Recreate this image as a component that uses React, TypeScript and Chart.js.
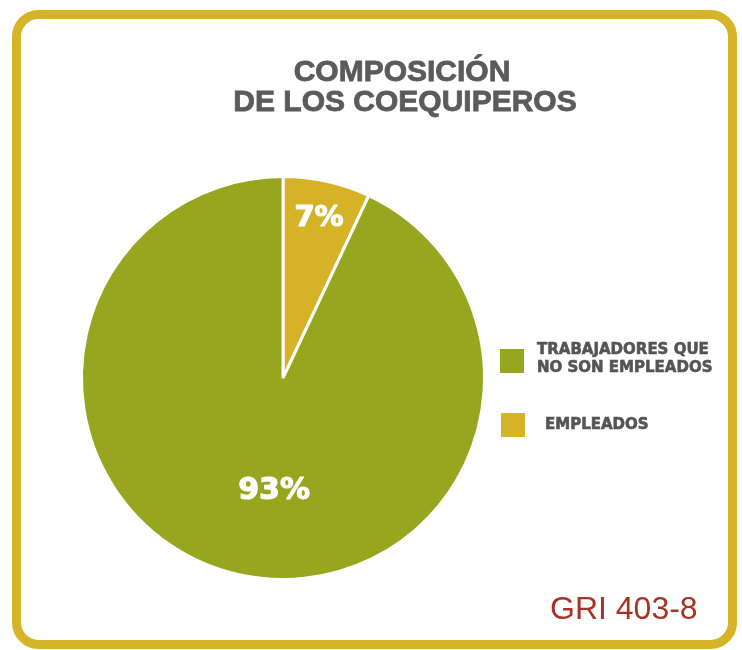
import React, { useEffect, useRef } from "react";
import { Chart, registerables } from "chart.js";

Chart.register(...registerables);

const titleLines = ["COMPOSICIÓN", "DE LOS COEQUIPEROS"];
const sliceLabels = ["EMPLEADOS", "TRABAJADORES QUE NO SON EMPLEADOS"];
const legendLines = [["EMPLEADOS"], ["TRABAJADORES QUE", "NO SON EMPLEADOS"]];
const sliceValues = [7, 93];
const sliceColors = ["#D5B226", "#97A61F"];
const legendOrder = [1, 0];
const footnote = "GRI 403-8";

const labelRadius = [0.82, 0.553];
const labelAngleShift = [0, -8];
const labelFontSize = [29, 30];

const W = 742;
const H = 650;

const decorPlugin = {
  id: "decor",
  beforeDraw(chart: any) {
    const ctx = chart.ctx;
    ctx.save();
    ctx.fillStyle = "#ffffff";
    ctx.fillRect(0, 0, W, H);
    // frame
    ctx.strokeStyle = "#D6B427";
    ctx.lineWidth = 9;
    ctx.beginPath();
    ctx.roundRect(16.5, 14.5, 716, 630, 22);
    ctx.stroke();
    // title
    ctx.fillStyle = "#5B5B5B";
    ctx.strokeStyle = "#5B5B5B";
    ctx.lineWidth = 0.8;
    ctx.font = "bold 30px 'Liberation Sans', Arial, sans-serif";
    ctx.textAlign = "center";
    ctx.textBaseline = "alphabetic";
    ctx.fillText(titleLines[0], 402, 81);
    ctx.strokeText(titleLines[0], 402, 81);
    ctx.fillText(titleLines[1], 405, 111);
    ctx.strokeText(titleLines[1], 405, 111);
    // legend
    const boxes = [
      { x: 500, y: 349, tx: 537, ty: [350, 368] },
      { x: 501, y: 413, tx: 545, ty: [425] },
    ];
    ctx.textAlign = "left";
    ctx.textBaseline = "middle";
    ctx.font = "bold 15px 'DejaVu Sans', sans-serif";
    legendOrder.forEach((idx, i) => {
      const b = boxes[i];
      ctx.fillStyle = sliceColors[idx];
      ctx.fillRect(b.x, b.y, 24, 24);
      ctx.fillStyle = "#555555";
      ctx.strokeStyle = "#555555";
      ctx.lineWidth = 0.6;
      legendLines[idx].forEach((line, j) => {
        ctx.fillText(line, b.tx, b.ty[j]);
        ctx.strokeText(line, b.tx, b.ty[j]);
      });
    });
    // footnote
    ctx.fillStyle = "#A83224";
    ctx.font = "32px 'Liberation Sans', Arial, sans-serif";
    ctx.textBaseline = "alphabetic";
    ctx.fillText(footnote, 550, 619);
    ctx.restore();
  },
  afterDatasetsDraw(chart: any) {
    const ctx = chart.ctx;
    const meta = chart.getDatasetMeta(0);
    const total = sliceValues.reduce((a, b) => a + b, 0);
    ctx.save();
    ctx.fillStyle = "#ffffff";
    ctx.strokeStyle = "#ffffff";
    ctx.lineWidth = 1.2;
    ctx.lineJoin = "round";
    ctx.textAlign = "center";
    ctx.textBaseline = "middle";
    meta.data.forEach((arc: any, i: number) => {
      const p = arc.getProps(["x", "y", "startAngle", "endAngle", "outerRadius"], true);
      const mid = (p.startAngle + p.endAngle) / 2 + (labelAngleShift[i] * Math.PI) / 180;
      const r = p.outerRadius * labelRadius[i];
      const x = p.x + Math.cos(mid) * r;
      const y = p.y + Math.sin(mid) * r + 2;
      ctx.font = `bold ${labelFontSize[i]}px 'DejaVu Sans', sans-serif`;
      const txt = `${Math.round((sliceValues[i] / total) * 100)}%`;
      ctx.fillText(txt, x, y);
      ctx.strokeText(txt, x, y);
    });
    ctx.restore();
  },
};

export default function App() {
  const ref = useRef<HTMLCanvasElement>(null);
  useEffect(() => {
    if (!ref.current) return;
    const chart = new Chart(ref.current, {
      type: "pie",
      data: {
        labels: sliceLabels,
        datasets: [
          {
            data: sliceValues,
            backgroundColor: sliceColors,
            borderColor: "#ffffff",
            borderWidth: 3,
          },
        ],
      },
      options: {
        responsive: false,
        animation: false,
        layout: { padding: { left: 80, right: 256, top: 175, bottom: 69 } },
        plugins: {
          legend: { display: false },
          title: { display: false },
          tooltip: { enabled: false },
        },
      },
      plugins: [decorPlugin],
    });
    return () => chart.destroy();
  }, []);
  return (
    <div style={{ position: "absolute", left: 0, top: 0, width: W, height: H }}>
      <canvas ref={ref} width={W} height={H} style={{ width: W, height: H, display: "block" }} />
    </div>
  );
}
